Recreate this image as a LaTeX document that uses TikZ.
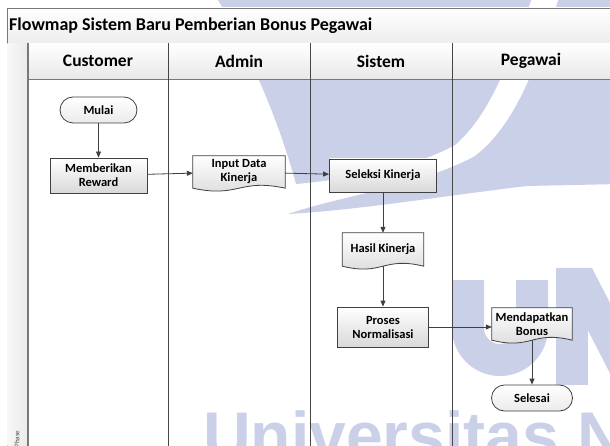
\documentclass[tikz,border=0pt]{standalone}
\usepackage{fontspec}
\setmainfont{Carlito}
\newfontfamily\wmfont{Liberation Sans}
\usetikzlibrary{arrows.meta,calc,backgrounds}

\definecolor{wmblue}{RGB}{203,208,233}
\definecolor{edge}{RGB}{64,64,64}
\definecolor{lanecol}{RGB}{70,70,70}
\definecolor{framecol}{RGB}{120,120,120}

\pgfdeclarelayer{wmlayer}
\pgfdeclarelayer{shapes}
\pgfsetlayers{wmlayer,background,shapes,main}

\tikzset{
  basebox/.style={inner sep=0pt, align=center, text=black,
    font=\bfseries\fontsize{12.5}{14}\selectfont},
  procbox/.style={basebox, draw=edge, line width=0.8pt,
    top color=white, bottom color=black!15},
  termbox/.style={procbox, rounded corners=13pt, bottom color=black!8},
  docbox/.style={basebox},
  docfill/.style={draw=edge, line width=0.8pt, top color=white, bottom color=black!15},
  flow/.style={draw=edge, line width=0.8pt, -{Triangle[length=6pt,width=5pt]}},
  headtext/.style={font=\bfseries\fontsize{17.5}{19}\selectfont},
  wmshape/.style={fill=wmblue, draw=none},
}

% wavy bottom of a document symbol, drawn behind its text node
\newcommand\docshape[1]{%
  \begin{pgfonlayer}{shapes}
    \path[docfill] (#1.north west) -- (#1.north east) -- (#1.south east)
      .. controls ($(#1.south)+(0,-10)$) and ($(#1.south)+(0,10)$) .. (#1.south west) -- cycle;
  \end{pgfonlayer}}

\begin{document}
\begin{tikzpicture}[x=1pt, y=-1pt]
\useasboundingbox (0,0) rectangle (610,446);
\clip (0,0) rectangle (610,446);

% page and faint logo watermark
\begin{pgfonlayer}{wmlayer}
  \fill[white] (0,0) rectangle (610,446);
  % upper crescent of the emblem
  \path[wmshape] (215,-5) -- (533,-5)
    .. controls (510,60) and (490,115) .. (455,145)
    .. controls (410,170) and (340,180) .. (296,184)
    .. controls (284,140) and (260,70) .. (215,-5) -- cycle;
  % lower sweeping band of the emblem
  \path[wmshape] (560,-5)
    .. controls (535,70) and (515,125) .. (475,156)
    .. controls (420,186) and (340,196) .. (288,214)
    .. controls (360,210) and (450,195) .. (527,186)
    -- (620,184) -- (620,-5) -- cycle;
  % large letters below the emblem
  \draw[wmblue, line width=32pt] (468,280) -- (468,328)
    arc[start angle=180, end angle=0, radius=32] -- (532,280);
  \path[wmshape] (556,268) -- (588,268) -- (588,385) -- (556,385) -- cycle;
  \path[wmshape] (556,268) -- (592,268) -- (652,385) -- (616,385) -- cycle;
  \node[anchor=base west, text=wmblue, inner sep=0pt,
    font=\wmfont\bfseries\fontsize{66}{66}\selectfont] (wmtext) at (203,458) {Universitas N};
\end{pgfonlayer}

% swimlane frame
\begin{pgfonlayer}{background}
  \path[top color=white, bottom color=black!7] (7,8) rectangle (614,43);
  \draw[framecol, line width=0.8pt] (614,8) -- (7,8) -- (7,460);
  \draw[framecol, line width=0.8pt] (7,43) -- (614,43);
  \path[left color=black!3, right color=black!8] (7.4,43.4) rectangle (27,460);
  \draw[framecol, line width=0.8pt] (27,43) -- (27,460);
  \path[top color=white, bottom color=black!9] (28.4,43.4) rectangle (614,79);
  \draw[framecol, line width=0.8pt] (28,43) -- (28,460);
  \draw[framecol, line width=0.8pt] (28,79) -- (614,79);
  \draw[lanecol, line width=0.9pt] (168,43) -- (168,460);
  \draw[lanecol, line width=0.9pt] (310,43) -- (310,460);
  \draw[lanecol, line width=0.9pt] (452,43) -- (452,460);
\end{pgfonlayer}

% title, lane headers, phase label
\node[anchor=west, font=\bfseries\fontsize{18}{20}\selectfont, inner sep=0pt] (title) at (9,25.5)
  {Flowmap Sistem Baru Pemberian Bonus Pegawai};
\node[headtext] (hcust) at (98,61) {Customer};
\node[headtext] (hadm)  at (239,61) {Admin};
\node[headtext] (hsis)  at (381,61) {Sistem};
\node[headtext] (hpeg)  at (531,61) {Pegawai};
\node[rotate=90, text=black!70, font=\fontsize{7}{8}\selectfont, inner sep=0pt] (phase) at (17,439) {Phase};

% flow symbols
\node[termbox, minimum width=77pt, minimum height=26pt] (mulai) at (98.5,110) {Mulai};
\node[procbox, minimum width=97pt, minimum height=35pt] (reward) at (98.5,175.5) {Memberikan\\Reward};
\node[docbox, minimum width=92pt, minimum height=32pt] (input) at (239,172) {Input Data\\Kinerja};
\docshape{input}
\node[procbox, minimum width=107pt, minimum height=33pt] (seleksi) at (383,175.5) {Seleksi Kinerja};
\node[docbox, minimum width=81pt, minimum height=33pt] (hasil) at (383,249.5) {Hasil Kinerja};
\docshape{hasil}
\node[procbox, minimum width=91pt, minimum height=40pt] (proses) at (383,327) {Proses\\Normalisasi};
\node[docbox, minimum width=80pt, minimum height=32pt] (bonus) at (532,324) {Mendapatkan\\Bonus};
\docshape{bonus}
\node[termbox, minimum width=81pt, minimum height=26pt] (selesai) at (532,398) {Selesai};

% connectors
\draw[flow] (mulai) -- (reward);
\draw[flow] (reward) -- (input);
\draw[flow] (input) -- (seleksi);
\draw[flow] (seleksi) -- (hasil);
\draw[flow] (hasil.south) -- (proses);
\draw[flow] (proses.east) -- (proses.east -| bonus.west);
\draw[flow] (bonus.south) -- (selesai);
\end{tikzpicture}
\end{document}
